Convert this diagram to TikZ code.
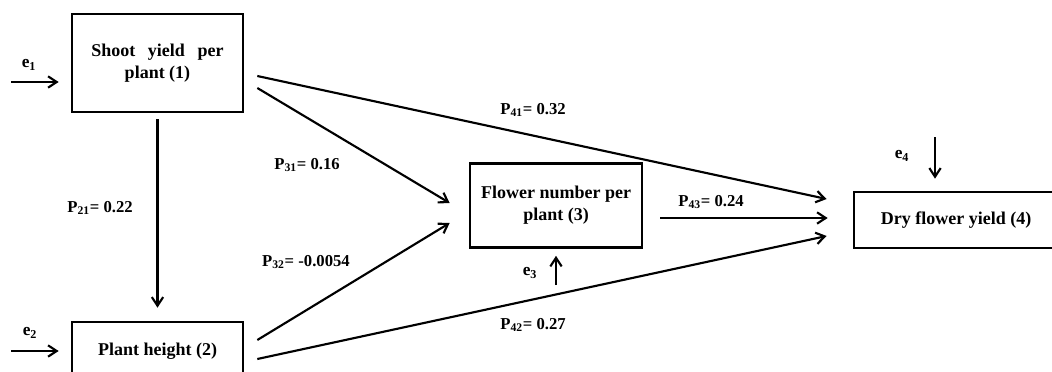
\documentclass[tikz,border=0pt]{standalone}
\usepackage{fontspec}
\setmainfont{Liberation Serif}
\usetikzlibrary{arrows.meta}

\begin{document}
\begin{tikzpicture}[
    x=0.75pt, y=-0.75pt,
    var/.style={rectangle, draw, line width=2pt, align=center, inner sep=0pt, font=\fontsize{13.5}{16.5}\selectfont\bfseries},
    rel/.style={-{Straight Barb[length=6.5pt,width=8.5pt]}, line width=1.6pt},
    coef/.style={font=\fontsize{12.5}{15}\selectfont\bfseries, inner sep=0pt},
    err/.style={font=\fontsize{13}{15}\selectfont\bfseries, inner sep=0pt}
]
    \useasboundingbox (0,0) rectangle (1052,371);
    \clip (0,0) rectangle (1052,371);

    % Nodes
    \node[var, minimum width=128.25pt, minimum height=73.5pt] (shoot) at (157.5,63) {Shoot\hspace{0.45em} yield\hspace{0.45em} per\\plant (1)};
    \node[var, minimum width=128.25pt, minimum height=43.5pt] (height) at (157.5,351) {Plant height (2)};
    \node[var, minimum width=129pt, minimum height=63pt] (flower) at (556,205.5) {Flower number per\\plant (3)};
    \node[var, minimum width=153pt, minimum height=42pt] (dry) at (956,220) {Dry flower yield (4)};

    % Errors
    \node[err] (e1) at (29,65) {e\textsubscript{1}};
    \node[err] (e2) at (30,333) {e\textsubscript{2}};
    \node[err] (e3) at (530,273) {e\textsubscript{3}};
    \node[err] (e4) at (902,156) {e\textsubscript{4}};
    \coordinate (e1s) at (11,82);
    \coordinate (e2s) at (11,351);
    \coordinate (e3s) at (556,285);
    \coordinate (e4s) at (935,137);

    % Coefficients
    \node[coef] (p21) at (100,208) {P\textsubscript{21}= 0.22};
    \node[coef] (p31) at (307,165) {P\textsubscript{31}= 0.16};
    \node[coef] (p32) at (306,262) {P\textsubscript{32}= -0.0054};
    \node[coef] (p41) at (533,110) {P\textsubscript{41}= 0.32};
    \node[coef] (p43) at (711,202) {P\textsubscript{43}= 0.24};
    \node[coef] (p42) at (533,325) {P\textsubscript{42}= 0.27};

    % Relations
    \draw[rel] (e1s) -- ([shift={(-12,19)}]shoot.west);
    \draw[rel] (e2s) -- ([shift={(-12,0)}]height.west);
    \draw[rel] (e3s) -- ([shift={(0,7)}]flower.south);
    \draw[rel] (e4s) -- ([shift={(-21,-12)}]dry.north);

    \draw[rel] ([shift={(0,6)}]shoot.south) -- ([shift={(0,-13)}]height.north);
    \draw[rel] ([shift={(13,13)}]shoot.east) -- ([shift={(-26,-21)}]dry.west);
    \draw[rel] ([shift={(13,25)}]shoot.east) -- ([shift={(-19,-2.5)}]flower.west);
    \draw[rel] ([shift={(13,-11)}]height.east) -- ([shift={(-19,17.5)}]flower.west);
    \draw[rel] ([shift={(13,8)}]height.east) -- ([shift={(-26,16)}]dry.west);
    \draw[rel] ([shift={(17,12.5)}]flower.east) -- ([shift={(-25,-2)}]dry.west);
\end{tikzpicture}
\end{document}
